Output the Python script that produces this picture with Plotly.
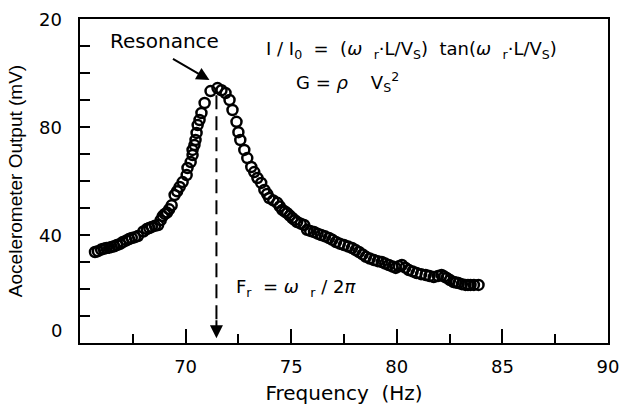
import plotly.graph_objects as go

freq = [65.71, 65.85, 66.0, 66.12, 66.25, 66.38, 66.5, 66.62, 66.75, 66.9, 67.03, 67.2, 67.32, 67.45, 67.6, 67.74,
        68.0, 68.16, 68.28, 68.4, 68.55, 68.7, 68.82, 68.92, 69.02, 69.12, 69.22, 69.34, 69.48,
        69.6, 69.72, 69.86, 70.05, 70.09, 70.24, 70.33, 70.33, 70.42, 70.47, 70.52, 70.57, 70.66,
        70.75, 70.9, 71.18, 71.51, 71.7, 71.89, 72.08, 72.22, 72.41, 72.5, 72.59, 72.78, 72.92,
        73.11, 73.25, 73.4, 73.58, 73.73, 73.86, 73.96, 74.15, 74.34, 74.46, 74.58, 74.7, 74.81,
        74.93, 75.05, 75.17, 75.28, 75.45, 75.61, 75.75, 75.9, 76.08, 76.25, 76.42, 76.6, 76.79,
        76.95, 77.12, 77.3, 77.5, 77.7, 77.88, 78.05, 78.21, 78.38, 78.54, 78.72, 78.92, 79.1,
        79.29, 79.45, 79.62, 79.8, 79.95, 80.1, 80.24, 80.4, 80.57, 80.75, 80.94, 81.15, 81.37,
        81.55, 81.75, 81.95, 82.12, 82.25, 82.36, 82.52, 82.69, 82.8, 82.92, 83.08, 83.25, 83.37,
        83.49, 83.65, 83.87]
output = [33.7, 34.0, 34.6, 34.9, 35.2, 35.3, 35.6, 35.8, 36.3, 36.7, 37.4, 38.0, 38.5, 38.9, 39.2, 39.6,
          41.3, 42.2, 42.6, 43.0, 43.4, 43.7, 45.5, 47.0, 47.8, 48.3, 49.5, 51.0, 54.8,
          56.2, 57.8, 59.6, 62.2, 64.8, 67.0, 69.6, 71.5, 73.3, 75.2, 77.8, 80.7, 82.6,
          85.2, 88.9, 93.3, 94.4, 93.6, 92.6, 90.0, 86.3, 81.9, 78.1, 75.2, 71.5, 68.5,
          65.2, 63.3, 61.1, 59.3, 56.7, 55.2, 53.7, 52.8, 51.9, 50.6, 49.3, 48.7, 48.1,
          47.2, 46.3, 45.5, 44.8, 44.2, 43.7, 41.9, 41.5, 41.1, 40.5, 40.0, 39.5, 38.9,
          38.2, 37.4, 36.8, 36.3, 35.7, 35.2, 34.4, 33.7, 32.8, 31.9, 31.3, 30.7, 30.3,
          30.0, 29.4, 28.9, 28.3, 27.8, 28.4, 28.9, 27.9, 27.0, 26.5, 25.9, 25.5, 25.2,
          24.8, 24.4, 24.8, 25.2, 24.6, 24.1, 23.3, 22.6, 22.4, 22.2, 21.8, 21.5, 21.5,
          21.5, 21.5, 21.5]

peak_freq = 71.46
x_ticks = [70, 75, 80, 85, 90]
y_label_vals = [120, 80, 40, 4.8]
y_label_text = ["20", "80", "40", "0"]

FONT = "DejaVu Sans, sans-serif"
FONT2 = "Liberation Sans, Arial, sans-serif"

W, H = 622, 405
L, R, T, B = 80, 12, 19, 62
pw, ph = W - L - R, H - T - B


def px(xp, yp):
    return (xp - L) / pw, 1 - (yp - T) / ph


fig = go.Figure()
fig.add_trace(go.Scatter(
    x=freq, y=output, mode="markers",
    marker=dict(symbol="circle-open", size=10, color="black", line=dict(width=2.5, color="black")),
    showlegend=False, hoverinfo="skip"))

# dashed resonance line
fig.add_shape(type="line", x0=peak_freq, x1=peak_freq, y0=91.8, y1=4,
              line=dict(color="black", width=2, dash="14px,7px"))

ann = []
ann.append(dict(x=peak_freq, y=1.8, ax=peak_freq, ay=9, xref="x", yref="y",
                axref="x", ayref="y", text="", showarrow=True,
                arrowhead=2, arrowsize=1.3, arrowwidth=2, arrowcolor="black"))
ann.append(dict(x=71.13, y=97.4, ax=-38, ay=-22, xref="x", yref="y",
                text="", showarrow=True, arrowhead=2, arrowsize=1.3,
                arrowwidth=2, arrowcolor="black"))
x0, y0 = px(165, 41)
ann.append(dict(x=x0, y=y0, xref="paper", yref="paper", xanchor="center", yanchor="middle",
                text="Resonance", showarrow=False,
                font=dict(family=FONT, size=20, color="black")))
x0, y0 = px(265, 50)
ann.append(dict(x=x0, y=y0, xref="paper", yref="paper", xanchor="left", yanchor="middle",
                text="I / I<sub>0</sub>  =  (<i>ω</i>  <sub>r</sub>·L/V<sub>S</sub>)  tan(<i>ω</i>  <sub>r</sub>·L/V<sub>S</sub>)",
                showarrow=False, font=dict(family=FONT, size=18, color="black")))
x0, y0 = px(295, 82)
ann.append(dict(x=x0, y=y0, xref="paper", yref="paper", xanchor="left", yanchor="middle",
                text="G = <i>ρ</i>    V<sub>S</sub><sup>2</sup>",
                showarrow=False, font=dict(family=FONT, size=18, color="black")))
x0, y0 = px(235, 288)
ann.append(dict(x=x0, y=y0, xref="paper", yref="paper", xanchor="left", yanchor="middle",
                text="F<sub>r</sub>  = <i>ω</i>  <sub>r</sub> / 2<i>π</i>",
                showarrow=False, font=dict(family=FONT, size=18, color="black")))
for v, t in zip(y_label_vals, y_label_text):
    ann.append(dict(x=0, y=v, xref="paper", yref="y", text=t, xanchor="right", yanchor="middle",
                    xshift=-16, showarrow=False,
                    font=dict(family=FONT, size=18, color="black")))

fig.update_layout(
    width=W, height=H,
    margin=dict(l=L, r=R, t=T, b=B),
    paper_bgcolor="white", plot_bgcolor="white",
    annotations=ann,
    xaxis=dict(range=[65, 90], tickvals=x_ticks, ticks="inside", ticklen=14, tickwidth=2,
               tickcolor="black", showgrid=False, zeroline=False, automargin=False,
               showline=True, linecolor="black", linewidth=2, mirror=True,
               ticklabelstandoff=6,
               minor=dict(dtick=2.5, tick0=65, ticks="inside", ticklen=9, tickwidth=2,
                          tickcolor="black", showgrid=False),
               tickfont=dict(family=FONT, size=18, color="black"),
               title=dict(text="Frequency  (Hz)", font=dict(family=FONT, size=20, color="black"))),
    yaxis=dict(range=[0, 120], dtick=10, ticks="inside", ticklen=10, tickwidth=2,
               tickcolor="black", showticklabels=False, showgrid=False, zeroline=False,
               automargin=True,
               showline=True, linecolor="black", linewidth=2, mirror=True,
               title=dict(text="Aocelerometer Output (mV)", standoff=50,
                          font=dict(family=FONT2, size=19, color="black"))),
)

fig.write_html("out.html")
